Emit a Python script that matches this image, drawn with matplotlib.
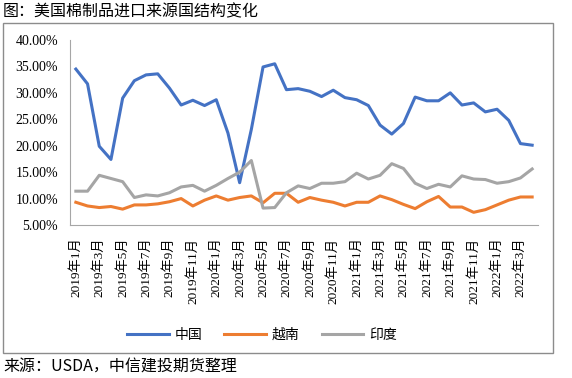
import matplotlib
matplotlib.use('Agg')
import matplotlib.pyplot as plt
from matplotlib.patches import Rectangle

plt.rcParams['font.family'] = ['Noto Sans CJK SC', 'DejaVu Sans']

# 2019-01 .. 2022-04, monthly share of imports (%)
months = [f"{2019 + i // 12}年{i % 12 + 1}月" for i in range(40)]
china = [34.5, 31.7, 19.9, 17.4, 29.0, 32.3, 33.4, 33.6, 30.9, 27.7,
         28.6, 27.6, 28.7, 22.4, 13.0, 23.1, 34.9, 35.5, 30.6, 30.8,
         30.3, 29.3, 30.5, 29.1, 28.7, 27.6, 23.9, 22.2, 24.2, 29.2,
         28.5, 28.5, 30.0, 27.7, 28.1, 26.4, 26.9, 24.8, 20.4, 20.1]
vietnam = [9.3, 8.6, 8.3, 8.5, 8.0, 8.8, 8.8, 9.0, 9.4, 10.0,
           8.6, 9.7, 10.5, 9.7, 10.2, 10.5, 9.2, 11.0, 11.0, 9.3,
           10.2, 9.7, 9.3, 8.6, 9.3, 9.3, 10.5, 9.8, 8.9, 8.1,
           9.4, 10.4, 8.4, 8.4, 7.4, 7.9, 8.8, 9.7, 10.3, 10.3]
india = [11.4, 11.4, 14.4, 13.8, 13.2, 10.2, 10.7, 10.5, 11.1, 12.2,
         12.5, 11.4, 12.5, 13.8, 15.0, 17.2, 8.2, 8.3, 11.1, 12.4,
         11.9, 12.9, 12.9, 13.2, 14.8, 13.7, 14.4, 16.6, 15.7, 12.9,
         11.9, 12.7, 12.2, 14.3, 13.7, 13.6, 12.9, 13.2, 13.9, 15.6]
series = [("中国", china, "#4472C4"), ("越南", vietnam, "#ED7D31"), ("印度", india, "#A5A5A5")]
yticks = [5, 10, 15, 20, 25, 30, 35, 40]

fig = plt.figure(figsize=(5.72, 3.78), dpi=100)
ax = fig.add_axes([70 / 572, 1 - 225 / 378, 468 / 572, 185 / 378])

x = list(range(len(months)))
for name, vals, color in series:
    ax.plot(x, vals, color=color, linewidth=2.2, label=name, solid_joinstyle='round')

ax.set_xlim(-0.5, len(months) - 0.5)
ax.set_ylim(5, 40)
ax.set_yticks(yticks)
ax.set_yticklabels([f"{v:.2f}%" for v in yticks], family=['Liberation Serif'], fontsize=10)
ax.set_xticks(x[::2])
ax.set_xticklabels(months[::2], rotation=90, fontsize=9.5, family=['Liberation Serif', 'Noto Sans CJK SC'])
ax.tick_params(axis='x', length=0, pad=9)
ax.tick_params(axis='y', length=0, pad=8.5)
for s in ['top', 'right']:
    ax.spines[s].set_visible(False)
for s in ['left', 'bottom']:
    ax.spines[s].set_color('#A6A6A6')

leg = ax.legend(loc='upper center', bbox_to_anchor=(0.41, -0.49), ncol=3, frameon=False,
                fontsize=10, handlelength=3.0, columnspacing=1.6, handletextpad=0.4)

fig.add_artist(Rectangle((3 / 572, 1 - 353 / 378), 550 / 572, 330 / 378, transform=fig.transFigure,
                         fill=False, edgecolor='#8C8C8C', linewidth=1))
fig.text(3 / 572, 1 - 12 / 378, "图：美国棉制品进口来源国结构变化", fontsize=11.5, va='center', ha='left')
fig.text(3 / 572, 1 - 367 / 378, "来源：USDA，中信建投期货整理", fontsize=11.5, va='center', ha='left')

fig.savefig("out.png", dpi=100)
